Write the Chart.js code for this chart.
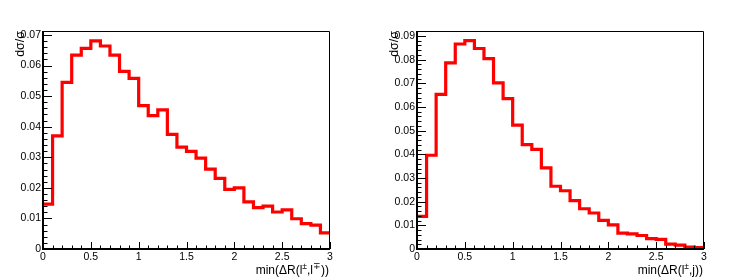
<!DOCTYPE html>
<html>
<head>
<meta charset="utf-8">
<script src="https://cdn.jsdelivr.net/npm/chart.js@4.4.1/dist/chart.umd.min.js"></script>
<style>
  html, body { margin: 0; padding: 0; background: #fff; }
  body { width: 747px; height: 280px; position: relative; overflow: hidden; }
  .pad { position: absolute; top: 0; width: 373px; height: 280px; }
</style>
</head>
<body>
<div class="pad" style="left:0"><canvas id="c1" width="373" height="280"></canvas></div>
<div class="pad" style="left:374px"><canvas id="c2" width="373" height="280"></canvas></div>
<script>
// histogram binning, shared by both pads
const binWidth = 0.1;
const xTicks = [0, 0.5, 1, 1.5, 2, 2.5, 3];

// left pad: min(dR(l+-, l-+))
const llValues = [0.0147, 0.0370, 0.0545, 0.0634, 0.0656, 0.0681, 0.0664, 0.0634, 0.0581, 0.0558,
                  0.0469, 0.0436, 0.0455, 0.0375, 0.0333, 0.0319, 0.0297, 0.0261, 0.0231, 0.0195,
                  0.0200, 0.0154, 0.0135, 0.0140, 0.0121, 0.0128, 0.0099, 0.0083, 0.0078, 0.0053];
const llYTicks = [0, 0.01, 0.02, 0.03, 0.04, 0.05, 0.06, 0.07];
const llYMax = 0.0713;
// title pieces, sup = superscript
const llTitle = [['min(ΔR(l'], ['±', 1], [',l'], ['∓', 1], ['))']];

// right pad: min(dR(l+-, j))
const ljValues = [0.0138, 0.0396, 0.0653, 0.0786, 0.0866, 0.0880, 0.0847, 0.0804, 0.0702, 0.0635,
                  0.0523, 0.0441, 0.0421, 0.0343, 0.0265, 0.0246, 0.0204, 0.0170, 0.0152, 0.0121,
                  0.0102, 0.0067, 0.0064, 0.0057, 0.0044, 0.0041, 0.0021, 0.0016, 0.0008, 0.0006];
const ljYTicks = [0, 0.01, 0.02, 0.03, 0.04, 0.05, 0.06, 0.07, 0.08, 0.09];
const ljYMax = 0.0921;
const ljTitle = [['min(ΔR(l'], ['±', 1], [',j))']];

const FONT = "'Liberation Sans', Arial, Helvetica, sans-serif";

// ROOT style frame: inward ticks, thick axes on left/bottom, thin top/right
const frameTicks = {
  id: 'frameTicks',
  afterDatasetsDraw(chart) {
    const { ctx, chartArea: a, scales: { x, y } } = chart;
    ctx.save();
    ctx.strokeStyle = '#000';
    ctx.lineWidth = 1;
    ctx.beginPath();
    for (let i = 0; i <= 30; i++) {
      const px = Math.round(x.getPixelForValue(i * 0.1)) + 0.5;
      const len = i % 5 === 0 ? 7 : 3.5;
      ctx.moveTo(px, a.bottom);
      ctx.lineTo(px, a.bottom - len);
    }
    const nY = Math.floor(y.max / 0.002 + 1e-6);
    for (let i = 0; i <= nY; i++) {
      const py = Math.round(y.getPixelForValue(i * 0.002)) + 0.5;
      const len = i % 5 === 0 ? 9 : 4.5;
      ctx.moveTo(a.left, py);
      ctx.lineTo(a.left + len, py);
    }
    ctx.stroke();

    // top / right border
    ctx.beginPath();
    ctx.moveTo(a.left, a.top + 0.5);
    ctx.lineTo(a.right - 0.5, a.top + 0.5);
    ctx.lineTo(a.right - 0.5, a.bottom);
    ctx.stroke();

    // axes
    ctx.lineWidth = 2;
    ctx.beginPath();
    ctx.moveTo(a.left, a.top);
    ctx.lineTo(a.left, a.bottom);
    ctx.lineTo(a.right, a.bottom);
    ctx.stroke();
    ctx.restore();
  }
};

// x title with superscripts, right aligned to the frame
const xTitlePlugin = {
  id: 'xTitle',
  afterDraw(chart, args, opts) {
    const { ctx, chartArea: a } = chart;
    const big = '12px ' + FONT, small = '8.5px ' + FONT;
    ctx.save();
    ctx.fillStyle = '#000';
    ctx.textBaseline = 'alphabetic';
    let w = 0;
    for (const [t, sup] of opts.parts) {
      ctx.font = sup ? small : big;
      w += ctx.measureText(t).width;
    }
    let xx = a.right - 1 - w;
    const base = 273.5;
    for (const [t, sup] of opts.parts) {
      ctx.font = sup ? small : big;
      ctx.fillText(t, xx, sup ? base - 4.5 : base);
      xx += ctx.measureText(t).width;
    }
    ctx.restore();
  }
};

function makeChart(id, values, yTicks, yMax, titleParts) {
  const pts = values.map((v, i) => ({ x: i * binWidth, y: v }));
  pts.push({ x: values.length * binWidth, y: values[values.length - 1] });

  return new Chart(document.getElementById(id), {
    type: 'line',
    data: {
      datasets: [{
        data: pts,
        borderColor: '#ff0000',
        borderWidth: 3.2,
        stepped: true,
        pointRadius: 0,
        fill: false
      }]
    },
    options: {
      responsive: false,
      animation: false,
      devicePixelRatio: 1,
      layout: { padding: { top: 31, right: 43, left: 0, bottom: 0 } },
      plugins: {
        legend: { display: false },
        tooltip: { enabled: false },
        xTitle: { parts: titleParts }
      },
      scales: {
        x: {
          type: 'linear',
          min: 0,
          max: 3,
          afterBuildTicks: s => { s.ticks = xTicks.map(v => ({ value: v })); },
          afterFit: s => { s.height = 31; },
          grid: { display: false, drawTicks: false },
          border: { display: false },
          ticks: {
            autoSkip: false, maxRotation: 0, padding: 2, color: '#000',
            font: { family: FONT, size: 10.5 },
            callback: v => String(v)
          }
        },
        y: {
          type: 'linear',
          min: 0,
          max: yMax,
          afterBuildTicks: s => { s.ticks = yTicks.map(v => ({ value: v })); },
          afterFit: s => { s.width = 43; },
          grid: { display: false, drawTicks: false },
          border: { display: false },
          ticks: {
            autoSkip: false, padding: 2, color: '#000',
            font: { family: FONT, size: 10.5 },
            callback: v => String(v)
          },
          title: {
            display: true, text: 'dσ/σ', align: 'end', color: '#000',
            font: { family: FONT, size: 12.5 },
            padding: { top: 13.5, bottom: 0 }
          }
        }
      }
    },
    plugins: [frameTicks, xTitlePlugin]
  });
}

makeChart('c1', llValues, llYTicks, llYMax, llTitle);
makeChart('c2', ljValues, ljYTicks, ljYMax, ljTitle);
</script>
</body>
</html>
